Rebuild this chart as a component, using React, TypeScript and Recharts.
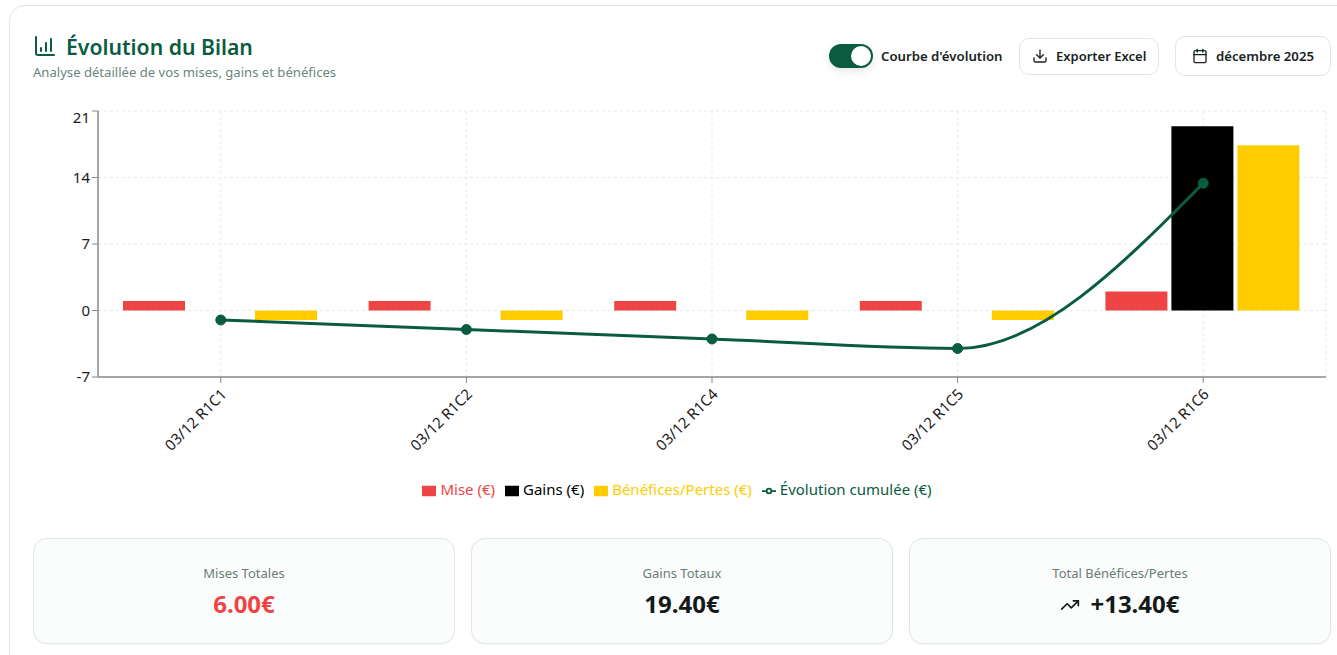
import React from "react";
import { Bar, CartesianGrid, ComposedChart, Legend, Line, Rectangle, XAxis, YAxis } from "recharts";

const categories = ["03/12 R1C1", "03/12 R1C2", "03/12 R1C4", "03/12 R1C5", "03/12 R1C6"];
const mise = [1, 1, 1, 1, 2];
const gains = [0, 0, 0, 0, 19.4];
const benefices = [-1, -1, -1, -1, 17.4];
const cumul = [-1, -2, -3, -4, 13.4];
const yTicks = [-7, 0, 7, 14, 21];

const summaryLabels = ["Mises Totales", "Gains Totaux", "Total Bénéfices/Pertes"];
const summaryValues = ["6.00€", "19.40€", "+13.40€"];

const data = categories.map((name, i) => ({
  name,
  mise: mise[i],
  gains: gains[i],
  benefices: benefices[i],
  cumul: cumul[i],
}));

const GREEN = "#0a5c41";
const FONT = "'Noto Sans', sans-serif";
const BORDER = "#dde8e6";

function YTick({ x, y, payload }: any) {
  // top label sits lower than its tick in the original
  const shift = payload.value === 21 ? 7 : 0;
  return (
    <text x={x} y={y + shift} dy={5} textAnchor="end" fontSize={15} fill="#1a1a1a" fontFamily={FONT}>
      {payload.value}
    </text>
  );
}

function XTick({ x, y, payload }: any) {
  const tx = x + 2.5;
  return (
    <text
      x={tx}
      y={y}
      dy={12}
      textAnchor="end"
      fontSize={15}
      fill="#1a1a1a"
      fontFamily={FONT}
      transform={`rotate(-45 ${tx} ${y + 6})`}
    >
      {payload.value}
    </text>
  );
}

// bars sit about a pixel further left than the default group offset
function ShiftedBar(props: any) {
  return <Rectangle {...props} x={props.x - 1} />;
}

function Icon({ size, color, children, style }: any) {
  return (
    <svg
      width={size}
      height={size}
      viewBox="0 0 24 24"
      fill="none"
      stroke={color}
      strokeWidth={2}
      strokeLinecap="round"
      strokeLinejoin="round"
      style={style}
    >
      {children}
    </svg>
  );
}

const abs = (left: number, top: number, extra: React.CSSProperties = {}): React.CSSProperties => ({
  position: "absolute",
  left,
  top,
  whiteSpace: "nowrap",
  ...extra,
});

function SummaryCard({ left, index }: { left: number; index: number }) {
  const valueColor = index === 0 ? "#ef4444" : "#141a18";
  return (
    <div
      style={abs(left, 538, {
        width: 420,
        height: 104,
        border: `1px solid ${BORDER}`,
        borderRadius: 14,
        background: "#fbfdfc",
        boxShadow: "0 1px 2px rgba(0,0,0,0.04)",
      })}
    >
      <div style={{ position: "absolute", top: 25, width: "100%", textAlign: "center", fontSize: 13, color: "#6b7b78" }}>
        {summaryLabels[index]}
      </div>
      <div
        style={{
          position: "absolute",
          top: 49,
          width: "100%",
          textAlign: "center",
          fontSize: 24,
          lineHeight: "32px",
          fontWeight: 700,
          color: valueColor,
        }}
      >
        {index === 2 && (
          <Icon size={20} color="#141a18" style={{ verticalAlign: "-2px", marginRight: 10 }}>
            <polyline points="22 7 13.5 15.5 8.5 10.5 2 17" />
            <polyline points="16 7 22 7 22 13" />
          </Icon>
        )}
        {summaryValues[index]}
      </div>
    </div>
  );
}

export default function App() {
  return (
    <div
      style={{
        position: "fixed",
        left: 0,
        top: 0,
        width: 1337,
        height: 655,
        overflow: "hidden",
        background: "#fff",
        fontFamily: FONT,
      }}
    >
      <div
        style={abs(9, 5, {
          width: 1400,
          height: 800,
          border: `1px solid ${BORDER}`,
          borderRadius: 16,
        })}
      />

      <Icon size={24} color={GREEN} style={abs(33, 34)}>
        <path d="M3 3v16a2 2 0 0 0 2 2h16" />
        <path d="M8 17v-3" />
        <path d="M13 17V9" />
        <path d="M18 17V5" />
      </Icon>
      <div style={abs(66, 32, { fontSize: 21.2, fontWeight: 600, color: GREEN })}>Évolution du Bilan</div>
      <div style={abs(33, 63, { fontSize: 13.1, color: "#6b8580" })}>Analyse détaillée de vos mises, gains et bénéfices</div>

      <div style={abs(829, 44, { width: 44, height: 24, borderRadius: 12, background: GREEN, boxShadow: "0 3px 8px rgba(0,0,0,0.1)" })}>
        <div style={{ position: "absolute", left: 22, top: 2, width: 20, height: 20, borderRadius: 10, background: "#fff" }} />
      </div>
      <div style={abs(881, 47, { fontSize: 13.2, fontWeight: 600, color: "#17231f" })}>Courbe d'évolution</div>

      <div style={abs(1019, 38, { width: 138, height: 35, border: `1px solid ${BORDER}`, borderRadius: 10 })} />
      <Icon size={16} color="#17231f" style={abs(1032, 48)}>
        <path d="M21 15v4a2 2 0 0 1-2 2H5a2 2 0 0 1-2-2v-4" />
        <polyline points="7 10 12 15 17 10" />
        <line x1="12" y1="15" x2="12" y2="3" />
      </Icon>
      <div style={abs(1056, 47, { fontSize: 13, fontWeight: 600, color: "#17231f" })}>Exporter Excel</div>

      <div style={abs(1175, 36, { width: 154, height: 38, border: `1px solid ${BORDER}`, borderRadius: 10 })} />
      <Icon size={16} color="#17231f" style={abs(1192, 48)}>
        <rect x="3" y="4" width="18" height="18" rx="2" />
        <line x1="16" y1="2" x2="16" y2="6" />
        <line x1="8" y1="2" x2="8" y2="6" />
        <line x1="3" y1="10" x2="21" y2="10" />
      </Icon>
      <div style={abs(1216, 47, { fontSize: 13.2, fontWeight: 600, color: "#17231f" })}>décembre 2025</div>

      <div style={abs(0, 0)}>
        <ComposedChart
          width={1337}
          height={499}
          data={data}
          barGap={4}
          barSize={62}
          margin={{ top: 111, right: 11, bottom: 0, left: 0 }}
        >
          <CartesianGrid stroke="#e3ebe9" strokeDasharray="3 3" />
          <XAxis
            dataKey="name"
            interval={0}
            height={102}
            tick={<XTick />}
            stroke="#a6a6a6"
            strokeWidth={2}
            tickLine={{ stroke: "#888", strokeWidth: 1 }}
          />
          <YAxis
            width={98}
            domain={[-7, 21]}
            ticks={yTicks}
            tick={<YTick />}
            stroke="#a6a6a6"
            strokeWidth={2}
            tickLine={{ stroke: "#888", strokeWidth: 1 }}
          />
          <Legend itemSorter={null} wrapperStyle={{ fontFamily: FONT, fontSize: 15, left: 19 }} />
          <Bar dataKey="mise" name="Mise (€)" fill="#ef4444" shape={ShiftedBar} isAnimationActive={false} />
          <Bar dataKey="gains" name="Gains (€)" fill="#000000" shape={ShiftedBar} isAnimationActive={false} />
          <Bar dataKey="benefices" name="Bénéfices/Pertes (€)" fill="#ffcc00" shape={ShiftedBar} isAnimationActive={false} />
          <Line
            type="monotone"
            dataKey="cumul"
            name="Évolution cumulée (€)"
            stroke={GREEN}
            strokeWidth={3}
            dot={{ r: 5, fill: GREEN, stroke: GREEN, strokeWidth: 1 }}
            isAnimationActive={false}
          />
        </ComposedChart>
      </div>

      <SummaryCard left={33} index={0} />
      <SummaryCard left={471} index={1} />
      <SummaryCard left={909} index={2} />
    </div>
  );
}
